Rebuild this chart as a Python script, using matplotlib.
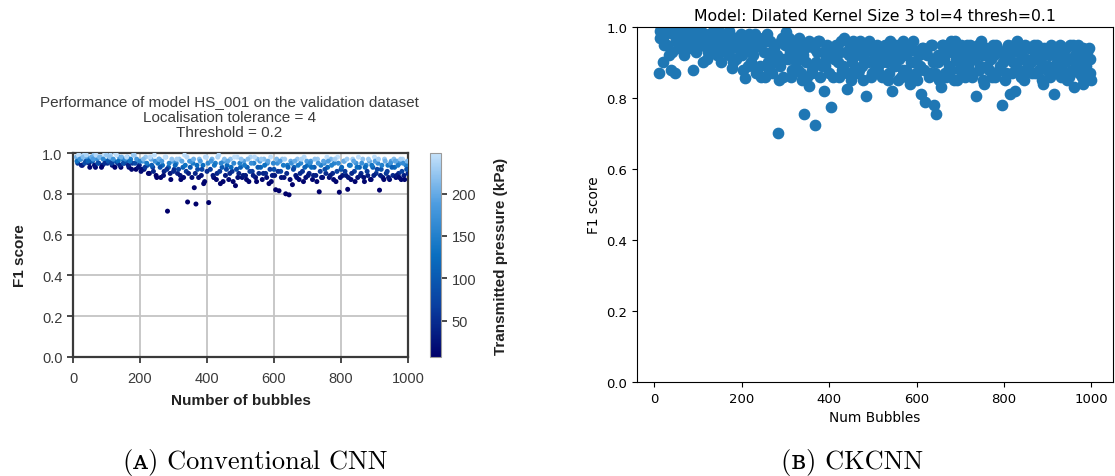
import numpy as np
import matplotlib
matplotlib.use('Agg')
import matplotlib.pyplot as plt
from matplotlib.colors import LinearSegmentedColormap

# number of bubbles in each validation sample
bubbles = [10, 14, 19, 23, 28, 33, 38, 42, 48, 53,
           58, 62, 67, 72, 77, 83, 88, 93, 98, 103,
           108, 112, 117, 122, 127, 133, 138, 143, 148, 153,
           158, 162, 167, 172, 177, 183, 188, 193, 198, 203,
           208, 212, 217, 222, 228, 233, 238, 243, 248, 253,
           258, 262, 267, 272, 277, 282, 285, 290, 297, 302,
           308, 312, 317, 322, 328, 333, 338, 342, 348, 355,
           358, 362, 367, 372, 377, 383, 388, 393, 398, 405,
           410, 415, 420, 425, 430, 435, 440, 445, 450, 455,
           460, 465, 470, 475, 480, 485, 490, 495, 500, 505,
           510, 515, 520, 525, 530, 535, 540, 545, 550, 555,
           560, 565, 570, 575, 580, 585, 590, 595, 600, 605,
           610, 615, 620, 625, 630, 635, 640, 645, 650, 655,
           660, 665, 670, 675, 680, 685, 690, 695, 700, 705,
           710, 715, 720, 725, 730, 735, 740, 745, 750, 755,
           760, 765, 770, 775, 780, 785, 790, 795, 800, 805,
           810, 815, 820, 825, 830, 835, 840, 845, 850, 855,
           860, 865, 870, 875, 880, 885, 890, 895, 900, 905,
           910, 915, 920, 925, 930, 935, 940, 945, 950, 955,
           960, 964, 968, 972, 976, 980, 984, 988, 994, 1000,
           12, 16, 21, 25, 30, 35, 40, 45, 50, 55,
           60, 64, 69, 74, 79, 85, 90, 95, 100, 105,
           110, 115, 120, 125, 130, 135, 140, 145, 150, 156,
           160, 165, 170, 175, 180, 185, 190, 195, 200, 206,
           210, 215, 220, 225, 230, 235, 240, 245, 250, 256,
           260, 265, 270, 275, 280, 287, 292, 295, 300, 305,
           310, 315, 320, 325, 330, 335, 340, 345, 350, 353,
           360, 365, 370, 375, 380, 385, 390, 395, 400, 403,
           412, 418, 422, 428, 432, 438, 442, 448, 452, 458,
           462, 468, 472, 478, 482, 488, 492, 498, 502, 508,
           512, 518, 522, 528, 532, 538, 542, 548, 552, 558,
           562, 568, 572, 578, 582, 588, 592, 598, 602, 608,
           612, 618, 622, 628, 632, 638, 642, 648, 652, 658,
           662, 668, 672, 678, 682, 688, 692, 698, 702, 708,
           712, 718, 722, 728, 732, 738, 742, 748, 752, 758,
           762, 768, 772, 778, 782, 788, 792, 798, 802, 808,
           812, 818, 822, 828, 832, 838, 842, 848, 852, 858,
           862, 868, 872, 878, 882, 888, 892, 898, 902, 908,
           912, 918, 922, 928, 932, 938, 942, 948, 952, 958,
           962, 966, 970, 974, 978, 982, 986, 990, 996, 998]

# F1 score of the conventional CNN (HS_001)
f1_cnn = [0.98, 0.95, 0.99, 0.97, 0.94, 0.99, 0.96, 0.98, 0.95, 0.97,
          0.96, 0.99, 0.93, 0.97, 0.95, 0.98, 0.94, 0.99, 0.96, 0.95,
          0.97, 0.99, 0.94, 0.96, 1.00, 0.95, 0.98, 0.93, 0.97, 0.95,
          0.96, 0.98, 0.93, 0.97, 0.95, 0.99, 0.92, 0.96, 0.94, 0.91,
          0.96, 0.92, 0.98, 0.94, 0.90, 0.97, 0.93, 0.99, 0.89, 0.95,
          0.97, 0.88, 0.94, 0.91, 0.98, 0.715, 0.93, 0.90, 0.96, 0.92,
          0.95, 0.90, 0.97, 0.87, 0.93, 0.99, 0.91, 0.76, 0.96, 0.88,
          0.95, 0.83, 0.75, 0.92, 0.97, 0.89, 0.94, 0.86, 0.98, 0.757,
          0.92, 0.97, 0.88, 0.95, 0.90, 0.99, 0.85, 0.93, 0.96, 0.89,
          0.94, 0.87, 0.97, 0.91, 0.95, 0.84, 0.98, 0.90, 0.93, 0.88,
          0.96, 0.89, 0.93, 0.86, 0.98, 0.91, 0.95, 0.88, 0.97, 0.90,
          0.93, 0.87, 0.97, 0.90, 0.95, 0.85, 0.98, 0.89, 0.92, 0.82,
          0.95, 0.815, 0.91, 0.97, 0.88, 0.80, 0.94, 0.795, 0.96, 0.845,
          0.93, 0.89, 0.97, 0.87, 0.95, 0.91, 0.98, 0.88, 0.94, 0.90,
          0.96, 0.87, 0.93, 0.89, 0.97, 0.81, 0.94, 0.88, 0.95, 0.90,
          0.93, 0.88, 0.97, 0.90, 0.95, 0.86, 0.98, 0.808, 0.92, 0.89,
          0.96, 0.89, 0.822, 0.94, 0.87, 0.97, 0.91, 0.95, 0.88, 0.93,
          0.90, 0.97, 0.86, 0.94, 0.89, 0.96, 0.87, 0.93, 0.98, 0.90,
          0.95, 0.818, 0.92, 0.88, 0.97, 0.90, 0.94, 0.87, 0.96, 0.89,
          0.93, 0.88, 0.96, 0.90, 0.95, 0.87, 0.97, 0.89, 0.94, 0.90,
          0.96, 0.99, 0.97, 0.94, 0.98, 0.95, 0.99, 0.96, 0.93, 0.98,
          0.97, 0.94, 0.99, 0.95, 0.98, 0.93, 0.97, 0.95, 0.99, 0.96,
          0.98, 0.95, 0.97, 0.93, 0.99, 0.96, 0.94, 0.98, 0.95, 0.97,
          0.98, 0.94, 0.96, 0.92, 0.99, 0.95, 0.97, 0.93, 0.96, 0.92,
          0.97, 0.93, 0.95, 0.90, 0.98, 0.94, 0.91, 0.96, 0.88, 0.97,
          0.93, 0.96, 0.89, 0.98, 0.92, 0.95, 0.87, 0.97, 0.91, 0.94,
          0.97, 0.92, 0.89, 0.96, 0.88, 0.94, 0.98, 0.90, 0.93, 0.96,
          0.97, 0.90, 0.94, 0.88, 0.96, 0.92, 0.85, 0.98, 0.91, 0.95,
          0.96, 0.89, 0.94, 0.87, 0.98, 0.91, 0.95, 0.86, 0.97, 0.92,
          0.96, 0.90, 0.93, 0.86, 0.98, 0.92, 0.88, 0.95, 0.97, 0.89,
          0.94, 0.87, 0.97, 0.91, 0.95, 0.89, 0.98, 0.86, 0.93, 0.96,
          0.97, 0.90, 0.94, 0.88, 0.96, 0.92, 0.86, 0.95, 0.89, 0.97,
          0.91, 0.96, 0.88, 0.94, 0.97, 0.90, 0.93, 0.87, 0.95, 0.92,
          0.96, 0.88, 0.94, 0.90, 0.97, 0.86, 0.93, 0.96, 0.89, 0.95,
          0.93, 0.89, 0.97, 0.86, 0.95, 0.91, 0.88, 0.96, 0.92, 0.98,
          0.96, 0.89, 0.94, 0.87, 0.97, 0.91, 0.95, 0.88, 0.93, 0.96,
          0.91, 0.97, 0.88, 0.94, 0.90, 0.96, 0.86, 0.93, 0.98, 0.89,
          0.95, 0.88, 0.93, 0.91, 0.97, 0.87, 0.94, 0.89, 0.96, 0.92,
          0.97, 0.89, 0.94, 0.87, 0.96, 0.91, 0.88, 0.95, 0.93, 0.97,
          0.96, 0.89, 0.94, 0.88, 0.97, 0.91, 0.95, 0.87, 0.92, 0.96]

# transmitted pressure of each sample (kPa)
pressure = [210, 60, 230, 150, 20, 240, 90, 180, 40, 120,
            100, 220, 15, 170, 70, 200, 30, 245, 130, 55,
            160, 235, 25, 110, 240, 65, 190, 12, 140, 50,
            90, 205, 20, 150, 60, 230, 10, 175, 45, 18,
            185, 30, 225, 95, 15, 200, 70, 245, 8, 130,
            210, 12, 120, 40, 235, 6, 100, 28, 190, 55,
            160, 35, 220, 10, 110, 245, 60, 5, 180, 22,
            140, 8, 6, 80, 215, 25, 125, 12, 240, 7,
            70, 205, 18, 150, 45, 240, 9, 100, 175, 30,
            120, 15, 220, 55, 160, 8, 240, 40, 110, 20,
            190, 30, 105, 12, 235, 60, 150, 22, 210, 45,
            115, 14, 215, 50, 165, 9, 245, 35, 90, 6,
            170, 5, 75, 225, 25, 5, 140, 4, 200, 8,
            110, 30, 220, 15, 160, 55, 240, 20, 130, 40,
            185, 14, 100, 35, 225, 5, 145, 18, 170, 50,
            120, 22, 210, 45, 155, 12, 245, 5, 85, 28,
            195, 32, 6, 135, 16, 230, 65, 175, 24, 110,
            48, 220, 12, 150, 36, 200, 18, 105, 245, 55,
            165, 5, 90, 25, 225, 60, 140, 15, 190, 42,
            120, 20, 205, 50, 170, 14, 235, 35, 145, 45,
            130, 245, 170, 35, 215, 80, 235, 110, 15, 200,
            185, 25, 240, 85, 210, 10, 160, 50, 225, 95,
            220, 70, 175, 8, 245, 125, 40, 205, 85, 160,
            240, 35, 135, 14, 225, 80, 180, 25, 155, 20,
            215, 60, 140, 12, 240, 105, 40, 170, 6, 205,
            90, 185, 20, 245, 55, 150, 10, 220, 45, 115,
            230, 70, 25, 195, 14, 130, 240, 35, 100, 175,
            205, 40, 120, 18, 185, 75, 9, 240, 50, 160,
            180, 28, 135, 14, 235, 60, 160, 10, 215, 80,
            195, 45, 120, 11, 245, 85, 22, 150, 220, 30,
            140, 15, 215, 65, 170, 35, 240, 10, 100, 190,
            225, 40, 130, 20, 195, 70, 12, 160, 30, 210,
            55, 185, 25, 140, 230, 45, 115, 15, 170, 80,
            200, 22, 140, 48, 235, 10, 110, 185, 30, 165,
            120, 35, 220, 12, 175, 65, 25, 195, 85, 245,
            185, 30, 150, 15, 230, 70, 165, 20, 115, 200,
            60, 225, 25, 140, 45, 195, 10, 125, 245, 35,
            170, 20, 120, 60, 225, 14, 135, 38, 190, 75,
            230, 32, 150, 12, 200, 65, 28, 175, 110, 215,
            195, 30, 145, 18, 230, 70, 165, 14, 90, 210]

# F1 score of the CKCNN (dilated kernel size 3)
f1_ckcnn = [0.87, 0.99, 0.97, 0.95, 1.00, 0.92, 0.88, 0.98, 0.87, 0.96,
            0.97, 1.00, 0.93, 0.99, 0.95, 0.96, 0.88, 0.98, 0.94, 0.97,
            0.99, 0.90, 0.96, 0.93, 0.98, 0.95, 0.97, 0.92, 0.99, 0.90,
            0.96, 0.98, 0.94, 0.92, 0.885, 0.97, 0.91, 0.95, 0.98, 0.88,
            0.855, 0.96, 0.98, 0.90, 0.94, 0.87, 0.96, 0.89, 0.97, 0.86,
            0.98, 0.88, 0.93, 0.90, 0.95, 0.70, 0.85, 0.96, 0.91, 0.985,
            0.97, 0.86, 0.92, 0.94, 0.88, 0.96, 0.85, 0.755, 0.90, 0.835,
            0.95, 0.87, 0.725, 0.93, 0.96, 0.89, 0.82, 0.91, 0.94, 0.775,
            0.86, 0.95, 0.90, 0.93, 0.88, 0.97, 0.825, 0.92, 0.85, 0.96,
            0.94, 0.87, 0.96, 0.89, 0.91, 0.805, 0.95, 0.86, 0.93, 0.88,
            0.95, 0.87, 0.90, 0.92, 0.94, 0.85, 0.96, 0.82, 0.89, 0.93,
            0.91, 0.86, 0.96, 0.88, 0.93, 0.84, 0.94, 0.90, 0.85, 0.92,
            0.81, 0.94, 0.79, 0.92, 0.87, 0.95, 0.78, 0.755, 0.90, 0.83,
            0.95, 0.87, 0.93, 0.89, 0.96, 0.85, 0.91, 0.94, 0.88, 0.92,
            0.86, 0.95, 0.90, 0.93, 0.87, 0.805, 0.95, 0.89, 0.92, 0.84,
            0.94, 0.88, 0.91, 0.95, 0.86, 0.93, 0.89, 0.78, 0.92, 0.87,
            0.95, 0.81, 0.90, 0.82, 0.96, 0.88, 0.93, 0.85, 0.91, 0.89,
            0.94, 0.87, 0.92, 0.95, 0.88, 0.90, 0.84, 0.93, 0.89, 0.86,
            0.93, 0.81, 0.88, 0.94, 0.86, 0.91, 0.90, 0.85, 0.95, 0.88,
            0.83, 0.94, 0.90, 0.87, 0.93, 0.84, 0.91, 0.89, 0.94, 0.85,
            0.97, 1.00, 0.90, 0.98, 0.95, 0.99, 0.93, 1.00, 0.96, 0.94,
            0.95, 0.98, 0.92, 0.96, 0.99, 0.94, 0.97, 0.93, 0.99, 0.96,
            0.95, 0.98, 0.91, 0.97, 0.94, 0.99, 0.96, 0.93, 0.97, 0.95,
            0.97, 0.93, 0.99, 0.95, 0.90, 0.97, 0.94, 0.96, 0.92, 0.97,
            0.94, 0.89, 0.97, 0.92, 0.98, 0.88, 0.95, 0.86, 0.93, 0.96,
            0.90, 0.96, 0.87, 0.94, 0.92, 0.89, 0.97, 0.86, 0.95, 0.91,
            0.93, 0.88, 0.96, 0.90, 0.97, 0.87, 0.92, 0.94, 0.86, 0.96,
            0.88, 0.94, 0.90, 0.96, 0.86, 0.93, 0.89, 0.95, 0.87, 0.92,
            0.91, 0.94, 0.86, 0.96, 0.89, 0.93, 0.87, 0.95, 0.90, 0.88,
            0.92, 0.88, 0.95, 0.85, 0.93, 0.90, 0.96, 0.87, 0.91, 0.94,
            0.89, 0.93, 0.86, 0.95, 0.90, 0.87, 0.93, 0.91, 0.95, 0.85,
            0.95, 0.88, 0.92, 0.86, 0.94, 0.90, 0.96, 0.87, 0.93, 0.89,
            0.94, 0.88, 0.93, 0.86, 0.95, 0.90, 0.87, 0.92, 0.85, 0.95,
            0.91, 0.86, 0.94, 0.88, 0.93, 0.96, 0.85, 0.90, 0.95, 0.87,
            0.93, 0.89, 0.95, 0.86, 0.91, 0.94, 0.88, 0.96, 0.85, 0.92,
            0.89, 0.94, 0.86, 0.92, 0.95, 0.88, 0.93, 0.90, 0.85, 0.94,
            0.92, 0.87, 0.95, 0.89, 0.93, 0.86, 0.91, 0.95, 0.88, 0.94,
            0.90, 0.95, 0.87, 0.93, 0.91, 0.85, 0.94, 0.88, 0.92, 0.95,
            0.87, 0.93, 0.90, 0.95, 0.88, 0.92, 0.94, 0.86, 0.91, 0.95,
            0.92, 0.88, 0.95, 0.90, 0.86, 0.94, 0.89, 0.93, 0.91, 0.87]

cmap = LinearSegmentedColormap.from_list(
    'press', ['#00006a', '#0a3fa0', '#0a6fc0', '#4c9ce0', '#c6e2fb'])

fig = plt.figure(figsize=(11.15, 4.77), dpi=100)

# ---- panel A: conventional CNN ----
sans = ['Liberation Sans', 'DejaVu Sans']
dark = '#3a3a3a'
ax1 = fig.add_axes([0.0655, 0.2495, 0.3004, 0.4276])
sc = ax1.scatter(bubbles, f1_cnn, c=pressure, cmap=cmap, vmin=7, vmax=248,
                 s=13, edgecolors='none', zorder=3)
ax1.set_xlim(0, 1000)
ax1.set_ylim(0, 1.0)
ax1.set_xticks([0, 200, 400, 600, 800, 1000])
ax1.set_yticks([0.0, 0.2, 0.4, 0.6, 0.8, 1.0])
ax1.grid(True, color='#c4c4c4', lw=1.3)
ax1.set_axisbelow(True)
for sp in ax1.spines.values():
    sp.set_color(dark)
    sp.set_linewidth(1.6)
ax1.tick_params(direction='out', length=4, width=1.3, color=dark,
                labelcolor=dark, labelsize=10.5)
ax1.tick_params(axis='x', pad=6)
for lab in ax1.get_xticklabels() + ax1.get_yticklabels():
    lab.set_family(sans)
ax1.set_title('Performance of model HS_001 on the validation dataset\n'
              'Localisation tolerance = 4\nThreshold = 0.2',
              family=sans, fontsize=11, color=dark, linespacing=1.15,
              pad=12, x=0.466)
ax1.set_xlabel('Number of bubbles', family=sans, fontsize=11,
               fontweight='bold', color='#222222', labelpad=6)
ax1.set_ylabel('F1 score', family=sans, fontsize=11,
               fontweight='bold', color='#222222', labelpad=11)

cax = fig.add_axes([0.3857, 0.2495, 0.0099, 0.4276])
cb = fig.colorbar(sc, cax=cax)
cb.set_ticks([50, 100, 150, 200])
cb.outline.set_edgecolor('#9a9a9a')
cb.outline.set_linewidth(0.8)
cax.tick_params(direction='out', length=4, width=1.3, color=dark,
                labelcolor=dark, labelsize=10.5)
for lab in cax.get_yticklabels():
    lab.set_family(sans)
cb.set_label('Transmitted pressure (kPa)', family=sans, fontsize=11,
             fontweight='bold', color='#222222', labelpad=13)

# ---- panel B: CKCNN ----
ax2 = fig.add_axes([0.5713, 0.1971, 0.4269, 0.7442])
ax2.scatter(bubbles, f1_ckcnn, s=55, color='#1f77b4')
ax2.set_ylim(0, 1.0)
ax2.tick_params(labelsize=9.5)
ax2.set_title('Model: Dilated Kernel Size 3 tol=4 thresh=0.1', fontsize=11.3, pad=5)
ax2.set_xlabel('Num Bubbles', fontsize=9.8)
ax2.set_ylabel('F1 score', fontsize=9.8)

# ---- captions ----
serif = ['cmr10', 'DejaVu Serif']
fig.text(0.2287, 0.031, '(\u1d00) Conventional CNN', family=serif,
         fontsize=19, ha='center', va='center')
fig.text(0.764, 0.031, '(\u0299) CKCNN', family=serif,
         fontsize=19, ha='center', va='center')

fig.savefig('out.png', dpi=100)
